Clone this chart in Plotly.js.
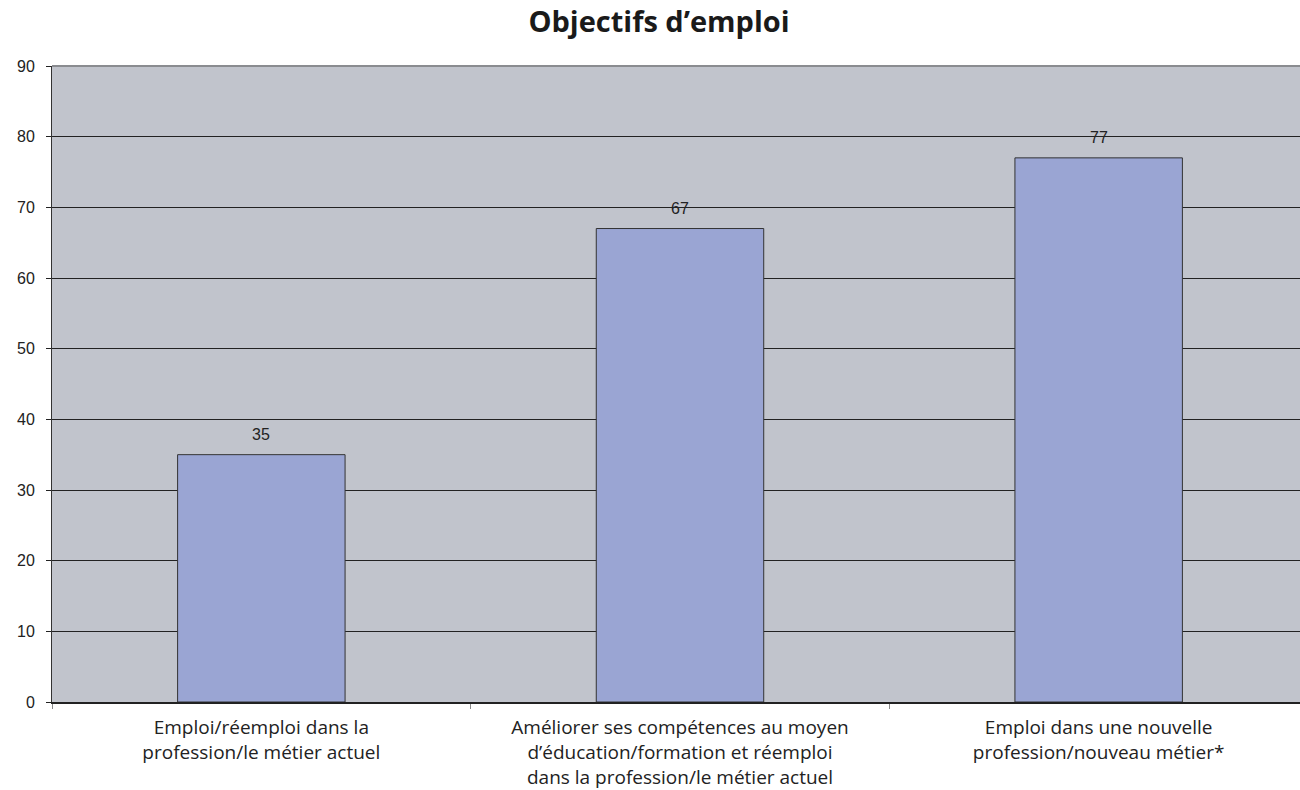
<!DOCTYPE html>
<html>
<head>
<meta charset="utf-8">
<script src="https://cdn.plot.ly/plotly-3.0.1.min.js"></script>
<style>
  html, body { margin: 0; padding: 0; overflow: hidden; background: #fff; }
  #chart { width: 1312px; height: 790px; }
</style>
</head>
<body>
<div id="chart"></div>
<script>
// Employment objectives (count per objective)
const categories = [
  "Emploi/réemploi dans la<br>profession/le métier actuel",
  "Améliorer ses compétences au moyen<br>d’éducation/formation et réemploi<br>dans la profession/le métier actuel",
  "Emploi dans une nouvelle<br>profession/nouveau métier*"
];
const values = [35, 67, 77];
const yTicks = [0, 10, 20, 30, 40, 50, 60, 70, 80, 90];

const trace = {
  type: "bar",
  x: categories,
  y: values,
  marker: { color: "#9aa5d3", line: { color: "#333333", width: 1 } },
  hoverinfo: "skip"
};

// value labels above each bar
const valueLabels = categories.map((c, i) => ({
  x: c, y: values[i], xref: "x", yref: "y",
  text: String(values[i]), showarrow: false,
  yanchor: "bottom", yshift: 10,
  font: { family: "Liberation Sans, Arial, sans-serif", size: 16, color: "#222" }
}));

const layout = {
  width: 1312, height: 790,
  margin: { l: 52, r: 4, t: 66, b: 88 },
  paper_bgcolor: "#ffffff",
  plot_bgcolor: "#c1c4cc",
  bargap: 0.6,
  showlegend: false,
  title: {
    text: "<b>Objectifs d’emploi</b>",
    x: 659 / 1312, xanchor: "center", y: 0.972, yanchor: "middle",
    font: { family: "Open Sans, sans-serif", size: 29, color: "#1a1a1a" }
  },
  xaxis: {
    type: "category",
    showline: true, linecolor: "#222", linewidth: 1.5,
    ticks: "outside", tickson: "boundaries", ticklen: 5, tickcolor: "#888",
    ticklabelstandoff: 8,
    showgrid: false,
    tickfont: { family: "Open Sans, sans-serif", size: 19, color: "#222" }
  },
  yaxis: {
    range: [0, 90],
    tickvals: yTicks,
    showline: true, linecolor: "#333", linewidth: 1,
    ticks: "outside", ticklen: 5, tickcolor: "#222",
    ticklabelstandoff: 8,
    showgrid: true, gridcolor: "#222", gridwidth: 1,
    zeroline: false,
    tickfont: { family: "Liberation Sans, Arial, sans-serif", size: 16, color: "#222" }
  },
  shapes: [{
    type: "line", xref: "paper", yref: "paper",
    x0: 0, x1: 1, y0: 1, y1: 1,
    line: { color: "#8a8c90", width: 2 }
  }],
  annotations: valueLabels
};

Plotly.newPlot("chart", [trace], layout, { displayModeBar: false, staticPlot: true });
</script>
</body>
</html>
